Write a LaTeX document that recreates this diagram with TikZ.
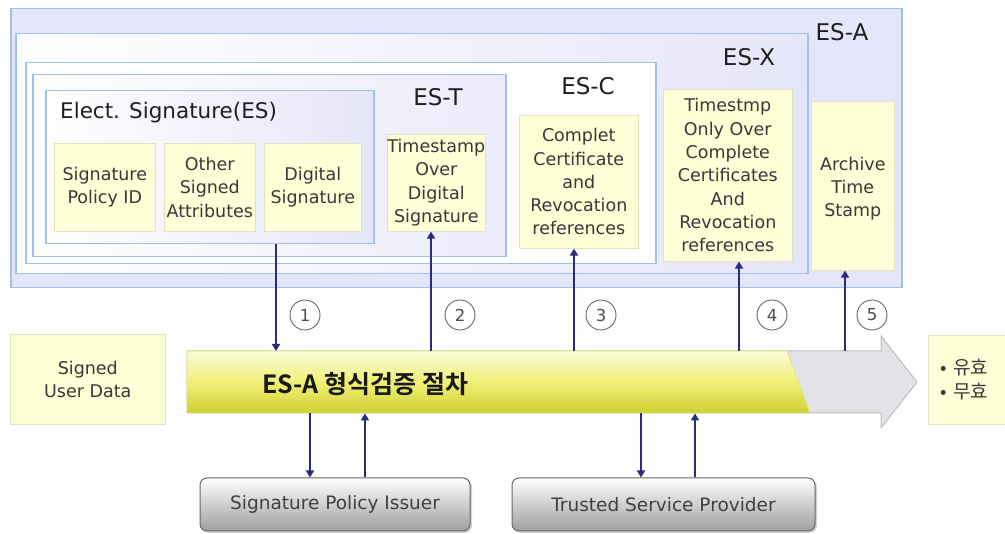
\documentclass[tikz,border=0pt]{standalone}
\usepackage{fontspec}
\setmainfont{DejaVu Sans}
\newfontfamily\kr{Noto Sans CJK KR}
\newfontfamily\krb{Noto Sans CJK KR Bold}
\usetikzlibrary{arrows.meta,shadows}
\definecolor{bordblue}{HTML}{9EC2EC}
\definecolor{lav}{HTML}{E6E6FA}
\definecolor{pale}{HTML}{FFFFD8}
\definecolor{paleline}{HTML}{E2E2C0}
\definecolor{navy}{HTML}{2A2A7E}
\definecolor{txt}{HTML}{383838}
\definecolor{ya}{HTML}{FBFBDA}
\definecolor{yb}{HTML}{F0F078}
\definecolor{yc}{HTML}{D0D030}
\definecolor{grayfill}{HTML}{E3E3E7}
\definecolor{grayline}{HTML}{BDBDC2}
\begin{document}
\begin{tikzpicture}[x=1pt,y=-1pt,
  frame/.style={draw=bordblue, line width=1.5pt, inner sep=0pt, anchor=north west},
  ybox/.style={fill=pale, draw=paleline, line width=0.6pt, align=center, inner sep=0pt,
    anchor=north west, font=\fontsize{17.5}{23.3}\selectfont, text=txt},
  lbl/.style={font=\fontsize{23}{26}\selectfont, text=black!88, inner sep=0pt},
  arr/.style={draw=navy, line width=2.2pt, -{Triangle[length=7pt,width=8pt]}},
  num/.style={circle, draw=black!60, line width=0.9pt, minimum size=30pt, inner sep=0pt,
    font=\fontsize{16.5}{16.5}\selectfont, text=black!70, fill=white},
  gbox/.style={rounded corners=7pt, draw=black!60, line width=1pt, top color=white,
    bottom color=black!38, minimum height=53pt, inner sep=0pt,
    font=\fontsize{18.5}{20}\selectfont, text=black!75,
    drop shadow={opacity=0.35, shadow xshift=2pt, shadow yshift=-2pt}}
]
\useasboundingbox (0,0) rectangle (1005,534);
\clip (0,0) rectangle (1005,534);

% nested frames
\node[frame, fill=lav, minimum width=891pt, minimum height=279pt] (esa) at (10,8) {};
\node[frame, left color=white, right color=lav, minimum width=792pt, minimum height=240pt] (esx) at (15,33) {};
\node[frame, fill=white, minimum width=630pt, minimum height=201pt] (esc) at (25,62) {};
\node[frame, left color=white, right color=lav!80, minimum width=473pt, minimum height=182pt] (est) at (32,74) {};
\node[frame, left color=white, right color=lav, minimum width=328pt, minimum height=153pt] (es) at (45,90) {};

% labels
\node[lbl] (lesa) at (842,32) {ES-A};
\node[lbl] (lesx) at (749,57) {ES-X};
\node[lbl] (lesc) at (588,86) {ES-C};
\node[lbl] (lest) at (438,97) {ES-T};
\node[lbl, anchor=west, font=\fontsize{21.5}{24}\selectfont] (les) at (60,113) {Elect. Signature(ES)};

% yellow content boxes
\node[ybox, minimum width=101pt, minimum height=88pt] (spid) at (54,143) {Signature\\Policy ID};
\node[ybox, minimum width=91pt, minimum height=88pt] (osa) at (164,143) {Other\\Signed\\Attributes};
\node[ybox, minimum width=97pt, minimum height=88pt] (dsig) at (264,143) {Digital\\Signature};
\node[ybox, minimum width=98pt, minimum height=97pt] (tsod) at (387,134) {Timestamp\\Over\\Digital\\Signature};
\node[ybox, minimum width=119pt, minimum height=133pt] (compl) at (519,115) {Complet\\Certificate\\and\\Revocation\\references};
\node[ybox, minimum width=129pt, minimum height=172pt] (tonly) at (663,89) {Timestmp\\Only Over\\Complete\\Certificates\\And\\Revocation\\references};
\node[ybox, minimum width=83pt, minimum height=169pt] (arch) at (811,101)
  {\raisebox{-7pt}[0pt][0pt]{\parbox{80pt}{\centering Archive\\Time\\Stamp}}};

% process band
\node[minimum width=693pt, minimum height=62pt, inner sep=0pt, anchor=north west] (band) at (187,351) {};
\path[fill=grayfill, draw=grayline, line width=1pt]
  (187,351) -- (881,351) -- (881,336) -- (917,382) -- (881,428) -- (881,413) -- (187,413) -- cycle;
\path[top color=ya, bottom color=yc, middle color=yb, draw=yc!60!white, line width=0.8pt]
  (187,351) -- (787,351) -- (810,413) -- (187,413) -- cycle;
\node[anchor=west, font=\krb\fontsize{25}{25}\selectfont, text=black!90, inner sep=0pt] (ttl) at (262,384) {ES-A 형식검증 절차};

% side boxes
\node[ybox, minimum width=155pt, minimum height=90pt] (sud) at (10,334) {Signed\\User Data};
\node[ybox, anchor=north west, minimum width=90pt, minimum height=89pt, align=left,
  text width=70pt, inner xsep=12pt, font=\kr\fontsize{19}{24}\selectfont] (res) at (928,335) {• 유효\\• 무효};

% bottom boxes
\node[gbox, minimum width=270pt] (spi) at (335,504.5) {Signature Policy Issuer};
\node[gbox, minimum width=303pt] (tsp) at (663.5,504.5) {Trusted Service Provider};

% connector x positions
\coordinate (x1) at (276,0);
\coordinate (x2) at (431,0);
\coordinate (x3) at (574,0);
\coordinate (x4) at (739,0);
\coordinate (x5) at (845,0);
\coordinate (x6) at (310,0);
\coordinate (x7) at (365,0);
\coordinate (x8) at (641,0);
\coordinate (x9) at (695,0);

\draw[arr] (es.south -| x1) -- (band.north -| x1);
\draw[arr] (band.north -| x2) -- (tsod.south -| x2);
\draw[arr] (band.north -| x3) -- (compl.south -| x3);
\draw[arr] (band.north -| x4) -- (tonly.south -| x4);
\draw[arr] (band.north -| x5) -- (arch.south -| x5);
\draw[arr] (band.south -| x6) -- (spi.north -| x6);
\draw[arr] (spi.north -| x7) -- (band.south -| x7);
\draw[arr] (band.south -| x8) -- (tsp.north -| x8);
\draw[arr] (tsp.north -| x9) -- (band.south -| x9);

% step numbers
\node[num] (c1) at (305,315) {1};
\node[num] (c2) at (460,315) {2};
\node[num] (c3) at (601,315) {3};
\node[num] (c4) at (772,315) {4};
\node[num] (c5) at (872,315) {5};
\end{tikzpicture}
\end{document}
